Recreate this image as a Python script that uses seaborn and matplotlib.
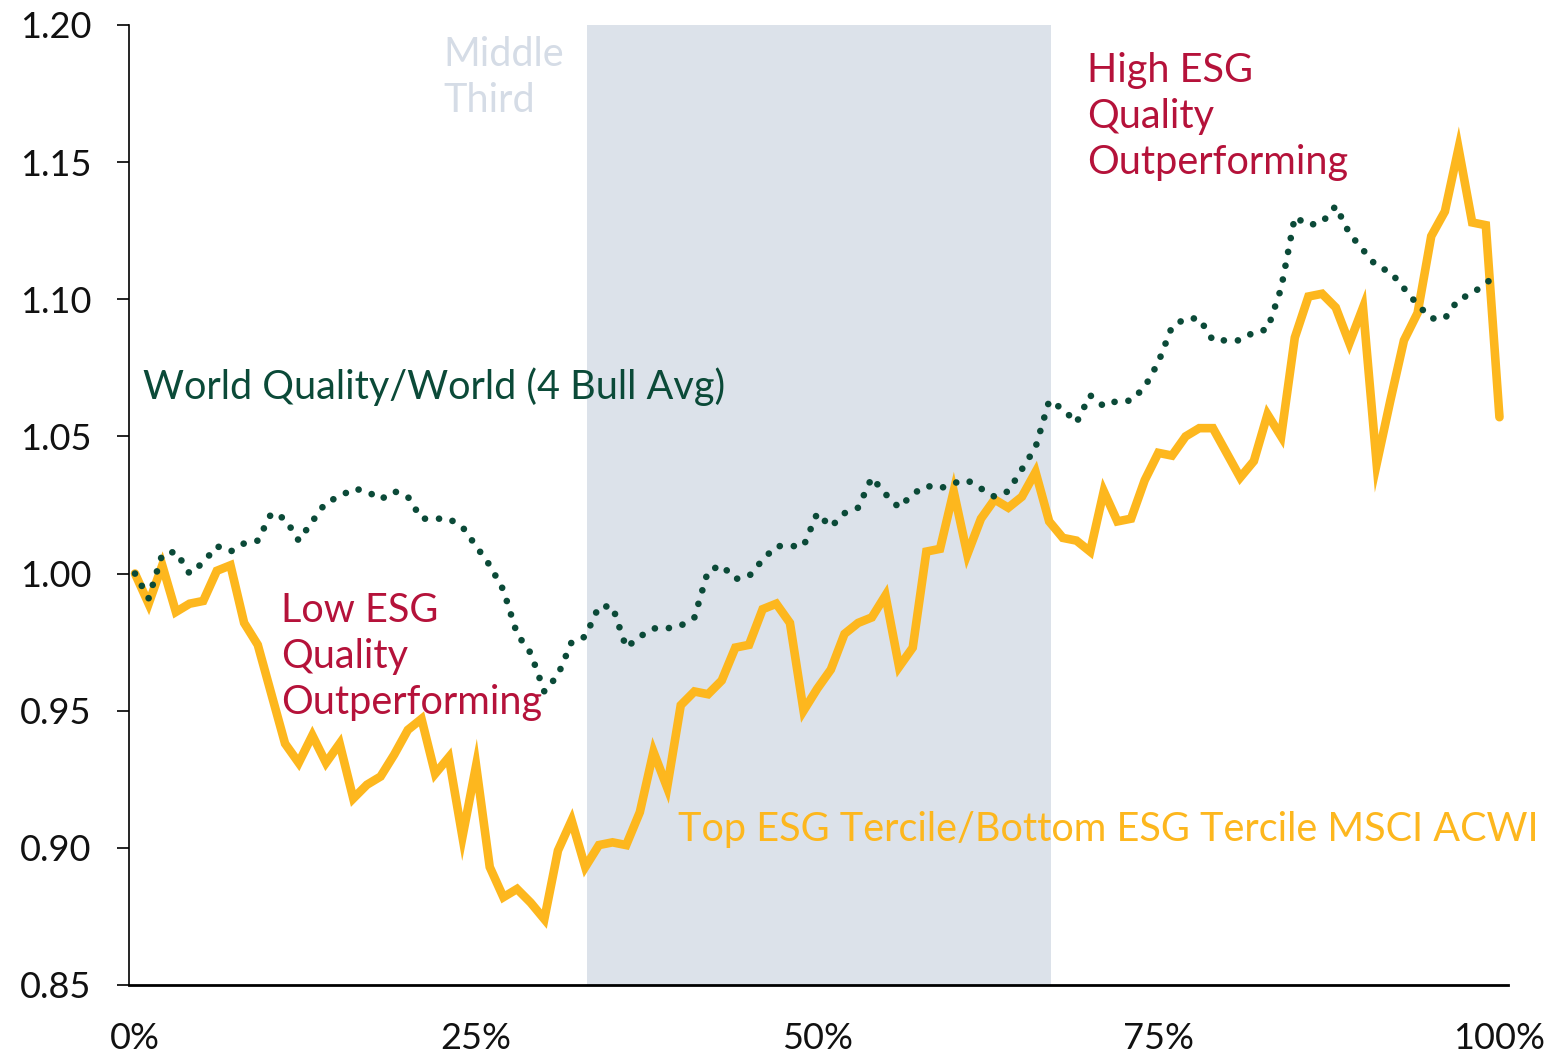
import matplotlib
matplotlib.use("Agg")
import matplotlib.pyplot as plt
import seaborn as sns
import numpy as np
import pandas as pd

# ---- data ----
pct = list(range(0, 101))
esg_ratio = [1.000, 0.989, 1.003, 0.986, 0.989, 0.990, 1.001, 1.003, 0.982, 0.974,
             0.956, 0.938, 0.931, 0.941, 0.931, 0.938, 0.918, 0.923, 0.926, 0.934,
             0.943, 0.947, 0.927, 0.933, 0.904, 0.930, 0.893, 0.882, 0.885, 0.880,
             0.874, 0.899, 0.910, 0.893, 0.901, 0.902, 0.901, 0.913, 0.935, 0.922,
             0.952, 0.957, 0.956, 0.961, 0.973, 0.974, 0.987, 0.989, 0.982, 0.950,
             0.958, 0.965, 0.978, 0.982, 0.984, 0.992, 0.966, 0.973, 1.008, 1.009,
             1.030, 1.007, 1.020, 1.027, 1.024, 1.028, 1.037, 1.019, 1.013, 1.012,
             1.008, 1.030, 1.019, 1.020, 1.034, 1.044, 1.043, 1.050, 1.053, 1.053,
             1.044, 1.035, 1.041, 1.058, 1.050, 1.086, 1.101, 1.102, 1.097, 1.084,
             1.097, 1.040, 1.063, 1.085, 1.095, 1.123, 1.132, 1.155, 1.128, 1.127,
             1.057]
quality_ratio = [1.000, 0.991, 1.007, 1.008, 1.000, 1.004, 1.010, 1.008, 1.011, 1.012,
                 1.022, 1.020, 1.012, 1.019, 1.026, 1.028, 1.031, 1.030, 1.027, 1.030,
                 1.028, 1.020, 1.020, 1.020, 1.017, 1.010, 1.003, 0.994, 0.978, 0.971,
                 0.957, 0.963, 0.975, 0.977, 0.988, 0.988, 0.973, 0.977, 0.980, 0.980,
                 0.981, 0.984, 1.001, 1.003, 0.998, 0.999, 1.005, 1.010, 1.010, 1.010,
                 1.022, 1.017, 1.022, 1.024, 1.035, 1.029, 1.024, 1.029, 1.032, 1.031,
                 1.033, 1.034, 1.031, 1.028, 1.030, 1.038, 1.046, 1.063, 1.060, 1.055,
                 1.065, 1.061, 1.063, 1.063, 1.068, 1.077, 1.090, 1.093, 1.093, 1.085,
                 1.085, 1.085, 1.088, 1.089, 1.104, 1.130, 1.127, 1.128, 1.134, 1.124,
                 1.118, 1.112, 1.110, 1.104, 1.098, 1.093, 1.093, 1.100, 1.102, 1.106,
                 1.109]
middle_third = (33.1, 67.1)
x_ticks = [0, 25, 50, 75, 100]
x_tick_labels = ["0%", "25%", "50%", "75%", "100%"]
y_ticks = [0.85, 0.90, 0.95, 1.00, 1.05, 1.10, 1.15, 1.20]
y_tick_labels = ["0.85", "0.90", "0.95", "1.00", "1.05", "1.10", "1.15", "1.20"]

df = pd.DataFrame({"pct": pct, "esg": esg_ratio, "quality": quality_ratio})

GOLD = "#FDB71E"
GREEN = "#0B4A38"
RED = "#B5123A"
SHADE = "#DCE2EA"

sns.set_theme(style="white")
plt.rcParams["font.family"] = ["Lato", "DejaVu Sans"]

fig = plt.figure(figsize=(15.67, 10.53), dpi=100)
ax = fig.add_axes([0.0823, 0.0646, 0.880, 0.9117])

ax.axvspan(middle_third[0], middle_third[1], color=SHADE, lw=0, zorder=0)

sns.lineplot(data=df, x="pct", y="quality", ax=ax, color=GREEN, lw=4.8,
             linestyle=(0, (0.01, 2.1)), dash_capstyle="round", zorder=3)
sns.lineplot(data=df, x="pct", y="esg", ax=ax, color=GOLD, lw=6.2,
             solid_joinstyle="miter", zorder=2)

ax.set_xlim(-0.44, 100.62)
ax.set_ylim(0.85, 1.20)
ax.set_xticks(x_ticks)
ax.set_xticklabels(x_tick_labels)
ax.set_yticks(y_ticks)
ax.set_yticklabels(y_tick_labels)
ax.set_xlabel("")
ax.set_ylabel("")

for s in ["top", "right"]:
    ax.spines[s].set_visible(False)
ax.spines["left"].set_color("black")
ax.spines["left"].set_linewidth(1.2)
ax.spines["bottom"].set_color("black")
ax.spines["bottom"].set_linewidth(2)

ax.tick_params(axis="y", left=True, length=9, width=1.2, color="black",
               pad=18, labelsize=26, labelcolor="#111111")
ax.tick_params(axis="x", bottom=False, length=0, pad=27, labelsize=26,
               labelcolor="#111111")

TXT = 28.5
LS = 1.3
ax.text(22.6, 1.181, "Middle\nThird", color="#D5DCE6", fontsize=TXT,
        ha="left", va="center", linespacing=LS)
ax.text(69.77, 1.1667, "High ESG\nQuality\nOutperforming", color=RED,
        fontsize=TXT, ha="left", va="center", linespacing=LS)
ax.text(10.7, 0.9697, "Low ESG\nQuality\nOutperforming", color=RED,
        fontsize=TXT, ha="left", va="center", linespacing=LS)
ax.text(0.59, 1.0682, "World Quality/World (4 Bull Avg)", color=GREEN,
        fontsize=TXT, ha="left", va="center")
ax.text(39.8, 0.9066, "Top ESG Tercile/Bottom ESG Tercile MSCI ACWI", color=GOLD,
        fontsize=TXT, ha="left", va="center")

fig.savefig("out.png", dpi=100)
